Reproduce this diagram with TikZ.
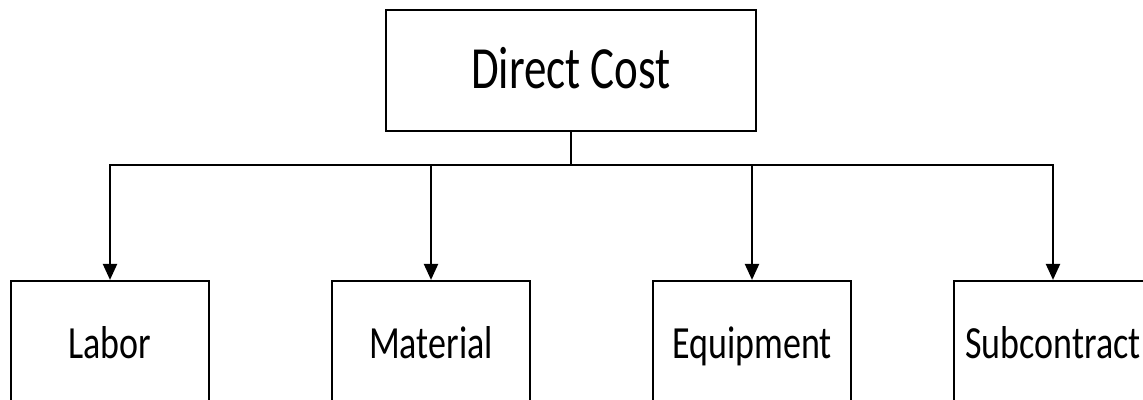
\documentclass[tikz,border=0pt]{standalone}
\usepackage{fontspec}
\setmainfont{Carlito}
\usetikzlibrary{arrows.meta}

% text is drawn slightly taller than wide
\newcommand{\tall}[2][1.28]{\scalebox{1}[#1]{#2}}

\tikzset{
  headbox/.style={draw=black, line width=2.8pt, fill=white,
    minimum width=370pt, minimum height=121pt, inner sep=0pt,
    text height=47pt, text depth=12pt,
    font=\fontsize{45}{50}\selectfont},
  itembox/.style={draw=black, line width=2.2pt, fill=white,
    minimum width=198pt, minimum height=134pt, inner sep=0pt,
    text height=32pt, text depth=12pt,
    font=\fontsize{36}{42}\selectfont},
  link/.style={line width=2.2pt},
  feed/.style={link, -{Triangle[length=16pt,width=14pt]}}
}

\begin{document}
\begin{tikzpicture}[x=1pt, y=-1pt]
  \useasboundingbox (0,0) rectangle (1143,399);
  \clip (0,0) rectangle (1143,399);

  % top level
  \node[headbox] (top) at (571,70.5) {\tall[1.33]{Direct Cost}};

  % cost components
  \node[itembox] (labor)    at (110,348)  {\tall{Labor}};
  \node[itembox] (material) at (431,348)  {\tall{Material}};
  \node[itembox] (equip)    at (752,348)  {\tall{Equipment}};
  \node[itembox] (sub)      at (1053,348) {\tall{Subcontract}};

  % distribution bus
  \coordinate (bus) at (571,165);
  \draw[link] (top.south) -- (bus);
  \draw[feed] (bus) -| (labor.north);
  \draw[feed] (bus) -| (material.north);
  \draw[feed] (bus) -| (equip.north);
  \draw[feed] (bus) -| (sub.north);
\end{tikzpicture}
\end{document}
